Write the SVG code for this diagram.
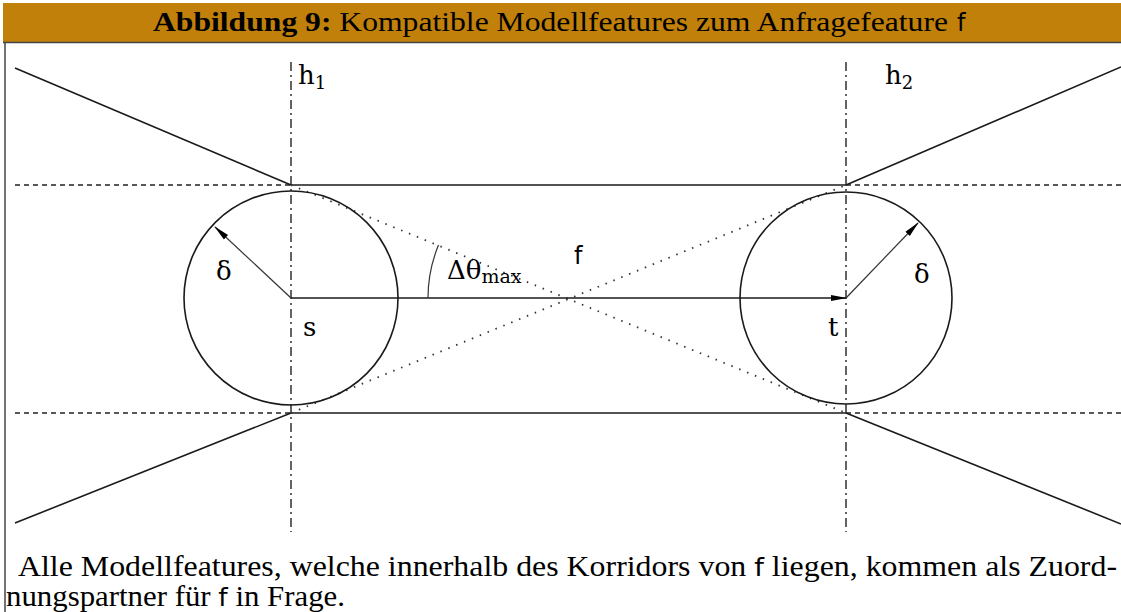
<svg xmlns="http://www.w3.org/2000/svg" width="1121" height="612" viewBox="0 0 1121 612">
<style>
.ln{stroke:#1a1a1a;stroke-width:1.6;fill:none}
.thin{stroke:#333;stroke-width:1.2;fill:none}
.dash{stroke:#222;stroke-width:1.4;stroke-dasharray:5,4;fill:none}
.dashdot{stroke:#222;stroke-width:1.4;stroke-dasharray:9,4,2,4;fill:none}
.dot{stroke:#333;stroke-width:1.8;stroke-dasharray:1.5,7;fill:none}
.lbl{font-family:"DejaVu Serif","Liberation Serif",serif;font-size:26px;fill:#000}
.sans{font-family:"DejaVu Sans","Liberation Sans",sans-serif;font-size:24px;fill:#000}
.cap{font-family:"Liberation Serif",serif;font-size:29px;fill:#000}
.inl{font-family:"DejaVu Sans","Liberation Sans",sans-serif;font-size:25px}
</style>
<defs>
<marker id="arr" markerWidth="16" markerHeight="8" refX="15" refY="4" orient="auto" markerUnits="userSpaceOnUse">
<path d="M0,1 L16,4 L0,7 Z" fill="#000"/>
</marker>
</defs>
<g id="frame">
<rect x="3" y="3" width="1118" height="39" fill="#C0800A"/>
<line x1="3" y1="42.5" x2="1121" y2="42.5" stroke="#444" stroke-width="1.5"/>
<line x1="5" y1="42" x2="5" y2="612" stroke="#444" stroke-width="1.5"/>
<text x="153" y="31" font-family="Liberation Serif,serif" font-size="28" textLength="795" lengthAdjust="spacingAndGlyphs"><tspan font-weight="bold">Abbildung 9:</tspan> Kompatible Modellfeatures zum Anfragefeature</text>
<text x="957" y="31" font-family="DejaVu Sans,sans-serif" font-size="24">f</text>
</g>
<g id="connectors">
<line class="dashdot" x1="291" y1="62" x2="291" y2="532"/>
<line class="dashdot" x1="846" y1="62" x2="846" y2="532"/>
<line class="dash" x1="15" y1="185" x2="291" y2="185"/>
<line class="dash" x1="846" y1="185" x2="1121" y2="185"/>
<line class="dash" x1="15" y1="413" x2="291" y2="413"/>
<line class="dash" x1="846" y1="413" x2="1121" y2="413"/>
<line class="ln" x1="291" y1="185" x2="846" y2="185"/>
<line class="ln" x1="291" y1="413" x2="846" y2="413"/>
<line class="ln" x1="15" y1="68" x2="291" y2="185"/>
<line class="ln" x1="846" y1="185" x2="1121" y2="67"/>
<line class="ln" x1="15" y1="523" x2="291" y2="413"/>
<line class="ln" x1="846" y1="413" x2="1121" y2="524"/>
<line class="dot" x1="291" y1="185" x2="846" y2="413"/>
<line class="dot" x1="291" y1="413" x2="846" y2="185"/>
<line class="ln" x1="291" y1="298" x2="846" y2="298" marker-end="url(#arr)"/>
<line class="thin" x1="291" y1="298" x2="215" y2="227" marker-end="url(#arr)"/>
<line class="thin" x1="846" y1="298" x2="918" y2="223" marker-end="url(#arr)"/>
<path class="thin" d="M428,298 A140,140 0 0 1 438.5,245"/>
</g>
<g id="circle-s">
<circle class="ln" cx="291" cy="298" r="107"/>
</g>
<g id="circle-t">
<circle class="ln" cx="846" cy="298" r="106"/>
</g>
<g id="labels">
<text class="lbl" x="298" y="84" font-size="28">h<tspan font-size="18" dy="5">1</tspan></text>
<text class="lbl" x="885" y="84" font-size="28">h<tspan font-size="18" dy="5">2</tspan></text>
<text class="lbl" x="216" y="280">δ</text>
<text class="lbl" x="914" y="283">δ</text>
<text class="lbl" x="447" y="279">Δθ<tspan font-size="19" dy="4">max</tspan></text>
<text class="sans" x="574" y="264">f</text>
<text class="lbl" x="303" y="336">s</text>
<text class="lbl" x="828" y="336">t</text>
</g>
<g id="caption">
<text class="cap" x="18" y="576" textLength="1099" lengthAdjust="spacingAndGlyphs">Alle Modellfeatures, welche innerhalb des Korridors von <tspan class="inl">f</tspan> liegen, kommen als Zuord-</text>
<text class="cap" x="6" y="606" textLength="339" lengthAdjust="spacingAndGlyphs">nungspartner für <tspan class="inl">f</tspan> in Frage.</text>
</g>
</svg>
